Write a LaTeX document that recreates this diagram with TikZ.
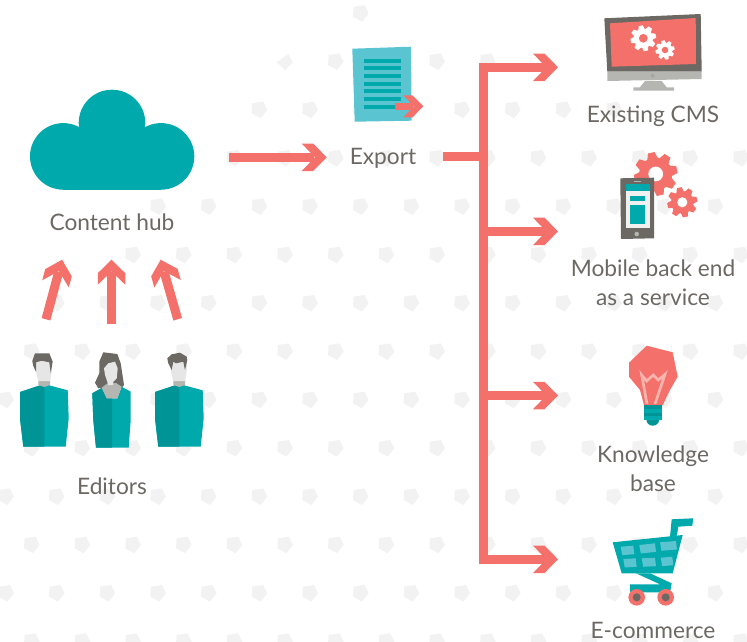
\documentclass[tikz,border=0pt]{standalone}
\usepackage{fontspec}
\setmainfont{Lato}
\usetikzlibrary{arrows.meta}
\definecolor{teal}{HTML}{00A9AC}
\definecolor{darkteal}{HTML}{009497}
\definecolor{paleteal}{HTML}{5BC4D1}
\definecolor{coral}{HTML}{F4706A}
\definecolor{palecoral}{HTML}{FAB4AE}
\definecolor{slate}{HTML}{6C6863}
\definecolor{stone}{HTML}{B5B5B2}
\definecolor{skin}{HTML}{E6E6E6}
\definecolor{dotgrey}{HTML}{F2F2F2}
\pgfdeclarearrow{
  name=Chevron,
  defaults={length=25pt},
  setup code={
    \pgfarrowssettipend{0pt}
    \pgfarrowssetlineend{-.5\pgfarrowlength}
    \pgfarrowssetvisualbackend{-\pgfarrowlength}
    \pgfarrowssetbackend{-\pgfarrowlength}
    \pgfarrowshullpoint{0pt}{0pt}
    \pgfarrowssavethe\pgfarrowlength
  },
  drawing code={
    \pgfpathmoveto{\pgfqpoint{0pt}{0pt}}
    \pgfpathlineto{\pgfqpoint{-.54\pgfarrowlength}{.55\pgfarrowlength}}
    \pgfpathlineto{\pgfqpoint{-\pgfarrowlength}{.55\pgfarrowlength}}
    \pgfpathlineto{\pgfqpoint{-.47\pgfarrowlength}{0pt}}
    \pgfpathlineto{\pgfqpoint{-\pgfarrowlength}{-.55\pgfarrowlength}}
    \pgfpathlineto{\pgfqpoint{-.54\pgfarrowlength}{-.55\pgfarrowlength}}
    \pgfpathclose
    \pgfusepathqfill
  },
  parameters={\the\pgfarrowlength},
}
\tikzset{
  caption/.style={text=slate,font=\fontsize{22.7}{29}\selectfont,align=center,inner sep=0pt},
  flow/.style={draw=coral,line width=9pt,miter limit=10,-{Chevron[length=25pt]}},
  trunkline/.style={draw=coral,line width=9pt},
  dot/.style={fill=dotgrey},
}
% a gear: centre x, centre y, outer radius, colour, colour of the hole
\newcommand{\geardraw}[5]{
  \foreach \a in {0,45,...,315}
    \fill[#4,shift={(#1,#2)},scale=#3,rotate=\a+12]
      (.68,-.25) -- (1,-.16) -- (1,.16) -- (.68,.25) -- cycle;
  \fill[#4] (#1,#2) circle [radius=.76*#3];
  \fill[#5] (#1,#2) circle [radius=.34*#3];
}
% the body, neck and face that two of the editors share
\newcommand{\manbody}{
  \fill[teal] (20,392) -- (44.3,384) -- (67.7,390.3) -- (68.7,418.3) -- (65.7,446.7)
    -- (23.3,446.7) -- (20,418.3) -- cycle;
  \fill[darkteal] (20,392) -- (44.3,384) -- (44.3,446.7) -- (23.3,446.7) -- (20,418.3) -- cycle;
  \fill[stone] (38.3,379) -- (50,379) -- (50,385) -- (44.3,387) -- (38.3,385) -- cycle;
  \fill[skin] (35.5,362) -- (44,359) -- (52,363) -- (51.7,372) -- (50,381) -- (38.3,381) -- (36,372) -- cycle;
}
\begin{document}
\begin{tikzpicture}[x=1pt,y=-1pt]
\useasboundingbox (0,0) rectangle (747,642);
\clip (0,0) rectangle (747,642);
%The background dots, row by row: row, first and last dot, offset
\foreach \y/\first/\last/\off in {13.5/7/7/5.6,61.7/6/9/31.3,110/5/12/5.6,158.3/4/14/31.3,
    206.7/3/14/5.6,255/2/14/31.3,303.3/1/14/5.6,351.7/0/14/31.3,400/0/14/5.6,
    448.3/0/14/31.3,496.7/0/14/5.6,545/0/14/31.3,593.3/0/14/5.6,641.7/0/14/31.3}
  \foreach \k in {\first,...,\last}
    \fill[dot,shift={({\off+50.67*\k},\y)}]
      (4.3,-8.3) -- (8.3,0) -- (1.7,8.3) -- (-7.3,3.3) -- (-6.7,-6.7) -- cycle;
\fill[dot] (276.7,62.3) -- (288.3,54) -- (292.7,62.3) -- (285,70) -- cycle;

%The cloud
\fill[teal] (63.3,156.4) circle [radius=33.3];
\fill[teal] (161,156.4) circle [radius=33.3];
\fill[teal] (112,123) circle [radius=33.3];
\fill[teal] (63.3,156.4) rectangle (161,189.7);
\fill[teal] (79,126.7) rectangle (145,160);
\node[caption] (hub) at (112,222) {Content hub};

%The first editor
\manbody
\fill[slate] (32.3,361) -- (35,353.3) -- (49.3,353.3) -- (52.7,361.7) -- (50.7,373) -- (49.3,362.3)
  -- (41.7,360.7) -- (36,362.3) -- (36,371.7) -- (33.3,366) -- cycle;

%The second editor
\fill[slate] (95,382.7) -- (99.3,373.3) -- (99.3,361.7) -- (103.3,352.3) -- (117.3,354) -- (120.7,363.3)
  -- (124,385) -- (121.7,388) -- (101.7,388) -- (98.3,388.3) -- cycle;
\fill[teal] (92.3,393.3) -- (101.7,388) -- (106.7,398.3) -- (117.3,398.3) -- (121.7,386.7) -- (130.7,391.7)
  -- (130.7,420) -- (128.7,447.7) -- (96,447.7) -- (93.3,420) -- cycle;
\fill[darkteal] (92.3,393.3) -- (101.7,388) -- (106.7,398.3) -- (112,398.3) -- (112,447.7) -- (96,447.7) -- (93.3,420) -- cycle;
\fill[stone] (101.7,387.7) -- (108,383) -- (116,383) -- (121.7,386.7) -- (117.3,398.3) -- (106.7,398.3) -- cycle;
\fill[skin] (104,368.3) -- (108.3,363.3) -- (115,361.7) -- (117.7,368.3) -- (116.7,378.3) -- (113.3,381.7)
  -- (113,385) -- (108.3,385) -- (106.7,380) -- (105,375) -- cycle;

%The third editor
\begin{scope}[shift={(135,0)}]
\manbody
\end{scope}
\fill[slate] (167.3,358.3) -- (171.7,354.3) -- (180,352.7) -- (186.7,356.7) -- (187.3,360) -- (185,370)
  -- (183.3,361.7) -- (176,363.3) -- (173.3,361.7) -- (171.7,370) -- (168.3,363.3) -- cycle;
\node[caption] (editors) at (112,486) {Editors};

%The document
\fill[paleteal] (352.3,48.7) -- (411,46.7) -- (411.7,120.7) -- (354.7,121.7) -- cycle;
\foreach \y in {60.7,68.3,76,83.7,91.3,99,107}
  \fill[teal] (364,\y-2) rectangle (400.7,\y+2);
\node[caption] (export) at (383,158) {Export};

%The monitor
\fill[slate] (604.3,18.3) -- (700.7,14) -- (701.7,71.7) -- (607.3,71.7) -- cycle;
\fill[stone] (607.3,71.7) -- (701.7,71.7) -- (701.7,79) -- (607.3,81) -- cycle;
\fill[coral] (610,23.3) -- (695.7,18) -- (696,64) -- (611.7,66.7) -- cycle;
\fill[stone] (645,81) -- (661.7,81) -- (666.7,87.3) -- (674,87.3) -- (674,90.7) -- (633.3,90.7) -- (633.3,87.3) -- (640,87.3) -- cycle;
\fill[slate!60] (652.7,75.7) circle [radius=2];
\geardraw{643.3}{38.3}{12.8}{white}{coral}
\geardraw{665}{50}{9.6}{white}{coral}
\node[caption] (cms) at (653,116) {Existing CMS};

%The phone and its gears
\geardraw{655.7}{174}{21.7}{coral}{white}
\geardraw{682.3}{202.3}{15}{coral}{white}
\fill[slate] (620.3,178.3) -- (654,177.7) -- (654,238.3) -- (621,239) -- cycle;
\fill[white!94!black] (625.7,184) rectangle (650,228.3);
\fill[teal] (625.7,184) rectangle (650,191);
\fill[teal] (629.7,195.7) rectangle (645,201.3);
\fill[teal] (629.7,205) rectangle (645,224.3);
\fill[stone] (634.3,180.5) rectangle (640.7,181.5);
\fill[stone] (636.7,234) circle [radius=2.3];
\node[caption] (mobile) at (653,282.5) {Mobile back end\\as a service};

%The bulb
\fill[coral] (646.7,345.7) -- (672.7,352.3) -- (677.7,376.7) -- (670,390) -- (662.7,405)
  -- (644,405) -- (640,390) -- (629,376.7) -- (629,362.7) -- cycle;
\draw[palecoral,line width=2.7pt] (647,404) -- (641.7,375) -- (646.7,381) -- (653.3,375)
  -- (658.3,380) -- (665,374.3) -- (655,404);
\fill[darkteal] (652.8,420) ellipse [x radius=6.3,y radius=5.7];
\fill[teal] (644,405) rectangle (661.7,420);
\fill[darkteal] (644,405) rectangle (661.7,409);
\fill[darkteal] (644,413) rectangle (661.7,416);
\node[caption] (knowledge) at (653,469) {Knowledge\\base};

%The cart
\fill[teal] (671.7,519.3) -- (693.3,518.3) -- (692.3,525.7) -- (678.3,526.7) -- (676.7,537) -- (670,537) -- cycle;
\fill[teal] (612.7,542.3) -- (682.7,535) -- (672.7,573.3) -- (621.7,573.3) -- cycle;
\fill[teal] (636,573.3) -- (650,573.3) -- (671.7,583.3) -- (670,592.3) -- (630,592.3) -- (630,584.3) -- (660,584.3) -- cycle;
\foreach \a/\b/\c/\d in {620.7/546.7/633.3/545.7,639.3/545/655/543.3,660/542.3/676/541,
    623.3/559/635.7/558.3,641.7/558.3/655/557.7,660.7/557.7/672.3/556.7}
  \fill[paleteal] (\a,\b) -- (\c,\d) -- (\c+1,\d+8.5) -- (\a+1.5,\b+8.5) -- cycle;
\foreach \x in {636.7,665.7}{
  \fill[coral] (\x,597.3) circle [radius=8.3];
  \fill[slate] (\x,597.3) circle [radius=4];
}
\node[caption] (ecom) at (653,630) {E-commerce};

%Ends of the arrows, all named so the arrows below read from name to name
\coordinate (hubout) at (229,157.3);
\coordinate (exportin) at (326.7,157.3);
\coordinate (docout) at (395,106.3);
\coordinate (docin) at (423.3,106.3);
\coordinate (stub) at (443,156.7);
\coordinate (trunktop) at (483.3,67.3);
\coordinate (trunkmid) at (483.3,156.7);
\coordinate (trunkmobile) at (483.3,231.4);
\coordinate (trunkknow) at (483.3,395.5);
\coordinate (trunkbot) at (483.3,559.3);
\coordinate (cmsin) at (558,67.3);
\coordinate (mobilein) at (558,231.4);
\coordinate (knowin) at (558,395.5);
\coordinate (ecomin) at (558,559.3);
\coordinate (ed1) at (46,319.3);
\coordinate (ed2) at (111.5,323.7);
\coordinate (ed3) at (177.7,319.3);
\coordinate (up1) at (62,259.7);
\coordinate (up2) at (111.5,259.7);
\coordinate (up3) at (160.7,259.7);

\draw[flow] (hubout) -- (exportin);
\draw[flow] (ed1) -- (up1);
\draw[flow] (ed2) -- (up2);
\draw[flow] (ed3) -- (up3);
\draw[flow,line width=6.5pt,-{Chevron[length=20pt]}] (docout) -- (docin);
\draw[trunkline] (stub) -- (trunkmid);
\draw[flow] (trunkbot) -- (trunktop) -- (cmsin);
\draw[flow] (trunktop) -- (trunkbot) -- (ecomin);
\draw[flow] (trunkmobile) -- (mobilein);
\draw[flow] (trunkknow) -- (knowin);
\end{tikzpicture}
\end{document}
